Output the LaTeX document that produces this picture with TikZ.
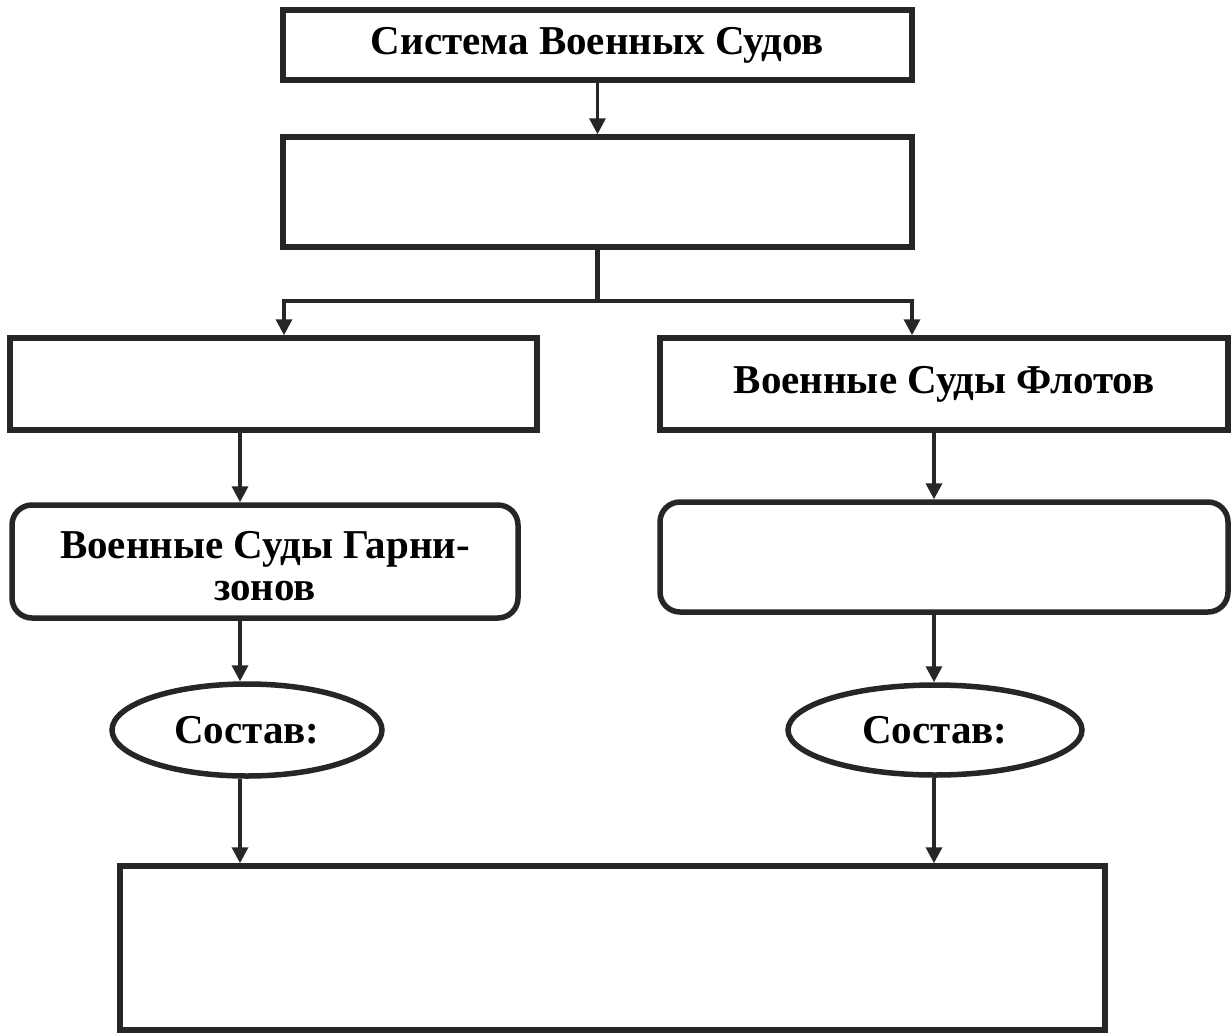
\documentclass[tikz,border=0pt]{standalone}
\usepackage{fontspec}
\setmainfont{Liberation Serif}
\usetikzlibrary{arrows.meta,shapes.geometric}
\begin{document}
\begin{tikzpicture}[x=1pt,y=1pt,
  box/.style={draw=black!85, line width=5.5pt, rectangle, align=center,
    font=\fontsize{41}{42}\selectfont\bfseries, inner sep=0pt},
  rbox/.style={box, rounded corners=20pt},
  ell/.style={draw=black!85, line width=5.5pt, ellipse, inner sep=0pt,
    font=\fontsize{41}{42}\selectfont\bfseries},
  arr/.style={draw=black!85, line width=3.5pt, -{Triangle[width=16pt,length=16pt]}},
  ln/.style={draw=black!85, line width=5pt}]
\useasboundingbox (0,0) rectangle (1232,-1033);
\fill[white] (0,0) rectangle (1232,-1033);
\node[box, minimum width=629pt, minimum height=70pt] (top) at (597.5,-45) {Система Военных Судов};
\node[box, minimum width=629pt, minimum height=110pt] (second) at (597.5,-192) {};
\node[box, minimum width=527pt, minimum height=92pt] (lbox) at (273.5,-384) {};
\node[box, minimum width=568pt, minimum height=92pt] (rbox) at (944,-384) {Военные Суды Флотов};
\node[rbox, minimum width=506pt, minimum height=113pt] (lround) at (265,-561.5) {};
\node[font=\fontsize{41}{42}\selectfont\bfseries, align=center, inner sep=0pt] (ltext) at (265,-566) {Военные Суды Гарни-\\зонов};
\node[rbox, minimum width=568pt, minimum height=110pt] (rround) at (944,-557) {};
\node[ell, minimum width=270pt, minimum height=92pt] (lell) at (247,-730) {Состав:};
\node[ell, minimum width=294pt, minimum height=90pt] (rell) at (935,-730) {Состав:};
\node[box, minimum width=985pt, minimum height=164pt] (bottom) at (612.5,-948) {};
\coordinate (j) at (597.5,-301);
\coordinate (cbl) at (284,0);
\coordinate (cbr) at (912,0);
\coordinate (cl) at (240,0);
\coordinate (cr) at (934,0);
\draw[arr] (top.south) -- (second.north);
\draw[ln] (second.south) -- (j);
\draw[arr] (j) -| (lbox.north -| cbl);
\draw[arr] (j) -| (rbox.north -| cbr);
\draw[arr] (lbox.south -| cl) -- (lround.north -| cl);
\draw[arr] (rbox.south -| cr) -- (rround.north -| cr);
\draw[arr] (lround.south -| cl) -- (lell.north -| cl);
\draw[arr] (rround.south -| cr) -- (rell.north -| cr);
\draw[arr] (lell.south -| cl) -- (bottom.north -| cl);
\draw[arr] (rell.south -| cr) -- (bottom.north -| cr);
\end{tikzpicture}
\end{document}
